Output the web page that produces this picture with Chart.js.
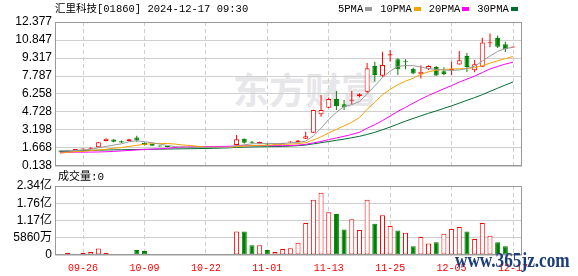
<!DOCTYPE html>
<html>
<head>
<meta charset="utf-8">
<script src="https://cdn.jsdelivr.net/npm/chart.js@4/dist/chart.umd.min.js"></script>
<style>
html,body{margin:0;padding:0;background:#fff;}
#wrap{position:relative;width:578px;height:276px;overflow:hidden;background:#fff;}
#wrap canvas{position:absolute;left:0;top:0;}
.txt{position:absolute;white-space:nowrap;font-family:"Liberation Mono","Noto Sans CJK SC",monospace;color:#000;}
#title{left:55px;top:3px;font-size:10.5px;line-height:12px;}
#volTitle{left:58px;top:171px;font-size:11px;line-height:12px;}
#legend{position:absolute;left:338px;top:3px;display:flex;align-items:center;font-family:"Liberation Mono",monospace;font-size:10.5px;line-height:12px;color:#000;}
#legend .item{display:flex;align-items:center;margin-right:8px;}
#legend .sw{display:inline-block;width:7px;height:4px;margin-left:2px;}
#wm1{left:233px;top:70px;font-family:"Noto Sans CJK SC",sans-serif;font-weight:bold;font-size:36px;line-height:36px;color:#e7e7ea;}
#wm2{left:455px;top:250px;font-family:"Liberation Serif",serif;font-weight:bold;font-size:20px;line-height:20px;color:#1b3d7a;transform:scaleX(0.86);transform-origin:left top;}
</style>
</head>
<body>
<div id="wrap">
  <div class="txt" id="wm1">东方财富</div>
  <canvas id="priceChart" width="578" height="276"></canvas>
  <canvas id="volChart" width="578" height="276"></canvas>
  <div class="txt" id="title">汇里科技[01860] 2024-12-17 09:30</div>
  <div id="legend"></div>
  <div class="txt" id="volTitle">成交量:0</div>
  <div class="txt" id="wm2">www.365jz.com</div>
</div>
<script>
// ---------- data ----------
const dates = ['09-23','09-24','09-25','09-26','09-27','09-30','10-02','10-03','10-04','10-07','10-08','10-09','10-10','10-14','10-15','10-16','10-17','10-18','10-21','10-22','10-23','10-24','10-25','10-28','10-29','10-30','10-31','11-01','11-04','11-05','11-06','11-07','11-08','11-11','11-12','11-13','11-14','11-15','11-18','11-19','11-20','11-21','11-22','11-25','11-26','11-27','11-28','11-29','12-02','12-03','12-04','12-05','12-06','12-09','12-10','12-11','12-12','12-13','12-16','12-17'];
const opens  = [1.40,1.38,1.50,1.55,1.60,1.73,2.26,2.40,2.25,2.26,2.56,2.12,2.00,1.86,1.80,1.69,1.70,1.68,1.70,1.71,1.74,1.72,1.71,1.92,2.46,2.18,2.10,2.03,1.97,2.02,2.14,2.18,2.46,2.97,4.53,5.09,5.83,5.38,5.69,6.09,6.45,8.64,7.80,9.54,9.21,9.00,8.40,7.93,8.36,8.55,8.20,8.30,8.76,9.49,8.28,8.58,10.58,11.02,10.49,10.22];
const closes = [1.36,1.45,1.55,1.60,1.68,2.16,2.45,2.20,2.13,2.42,2.30,1.92,1.86,1.80,1.76,1.72,1.73,1.71,1.72,1.73,1.71,1.70,1.74,2.42,2.12,2.12,2.17,1.96,2.00,2.08,2.22,2.30,2.66,4.90,4.90,5.83,5.24,5.13,5.75,6.23,8.44,7.87,8.72,9.63,8.36,8.96,8.01,8.14,8.64,7.84,7.95,8.34,9.13,8.56,8.78,10.63,10.64,10.27,10.06,10.25];
const highs  = [1.42,1.47,1.58,1.62,1.72,2.18,2.50,2.42,2.30,2.45,2.71,2.14,2.03,1.88,1.82,1.74,1.75,1.73,1.74,1.75,1.76,1.74,1.76,2.77,2.48,2.26,2.20,2.06,2.03,2.10,2.25,2.34,3.05,4.92,6.17,5.97,6.51,5.75,6.51,6.32,8.90,9.00,9.85,9.99,9.29,9.21,8.49,8.70,8.70,8.64,8.53,9.03,9.91,9.74,9.15,11.04,11.40,11.22,10.70,10.25];
const lows   = [1.33,1.36,1.48,1.53,1.58,1.70,2.24,2.15,2.10,2.24,2.20,1.88,1.84,1.77,1.74,1.67,1.68,1.66,1.68,1.69,1.69,1.68,1.69,1.90,2.06,2.05,2.06,1.94,1.95,2.00,2.12,2.16,2.44,2.95,4.33,5.04,4.90,4.90,5.38,5.98,6.32,7.30,7.73,9.00,7.87,8.36,7.93,7.57,8.30,7.78,7.85,7.85,8.74,8.13,8.10,8.55,10.24,10.17,9.83,10.22];
const ma5  = [1.45,1.45,1.47,1.50,1.55,1.68,1.80,1.92,2.02,2.20,2.28,2.20,2.12,2.00,1.88,1.78,1.75,1.72,1.71,1.72,1.72,1.72,1.72,1.86,1.94,2.02,2.05,2.06,2.04,2.05,2.10,2.15,2.25,2.70,3.35,4.10,4.70,5.20,5.35,5.62,6.25,6.95,7.65,8.20,8.60,8.68,8.66,8.55,8.42,8.35,8.30,8.26,8.30,8.42,8.62,9.05,9.48,9.88,10.12,10.23];
const ma10 = [1.22,1.30,1.35,1.38,1.45,1.50,1.56,1.65,1.70,1.80,1.90,1.98,2.04,2.06,2.05,2.00,1.92,1.88,1.80,1.74,1.73,1.72,1.72,1.78,1.83,1.87,1.90,1.90,1.95,1.97,2.00,2.04,2.12,2.35,2.62,2.95,3.25,3.55,3.85,4.25,4.95,5.55,6.20,6.65,7.05,7.35,7.60,7.92,8.15,8.27,8.35,8.38,8.40,8.42,8.50,8.65,8.88,9.08,9.26,9.45];
const ma20 = [1.30,1.30,1.31,1.31,1.32,1.33,1.35,1.38,1.42,1.46,1.50,1.54,1.57,1.60,1.64,1.70,1.74,1.77,1.78,1.79,1.80,1.80,1.81,1.84,1.86,1.87,1.88,1.87,1.86,1.86,1.88,1.91,1.98,2.10,2.22,2.38,2.52,2.66,2.82,3.00,3.35,3.65,4.00,4.38,4.78,5.12,5.48,5.82,6.14,6.42,6.70,6.97,7.27,7.52,7.78,8.08,8.38,8.60,8.80,8.96];
const ma30 = [1.38,1.40,1.42,1.44,1.46,1.48,1.50,1.51,1.52,1.53,1.54,1.55,1.56,1.57,1.58,1.59,1.60,1.61,1.62,1.63,1.64,1.66,1.68,1.72,1.74,1.76,1.77,1.78,1.79,1.80,1.83,1.87,1.92,2.02,2.12,2.22,2.32,2.42,2.54,2.66,2.82,3.00,3.22,3.45,3.70,3.95,4.18,4.40,4.62,4.82,5.04,5.25,5.48,5.72,5.95,6.20,6.48,6.75,7.02,7.28];
// volume in 万 (10k shares)
const volumes = [330,660,330,660,1000,2200,660,330,330,330,1660,1330,330,330,330,330,330,330,330,330,330,330,330,7960,7960,3320,3320,1660,1000,2000,2320,4200,10840,18800,21120,14490,13940,8630,12170,8520,18800,10620,13490,9840,8300,7520,2990,6080,3870,4310,7190,8850,9510,7960,5420,10840,6530,4310,2990,0];
const volUp = [0,1,1,1,1,1,1,0,0,1,0,0,0,0,0,1,1,1,1,1,0,0,1,1,0,0,1,0,1,1,1,1,1,1,1,1,0,0,1,1,1,0,1,1,0,1,0,1,1,0,1,1,1,0,1,1,1,0,0,1];
const priceTicks = [0.138,1.668,3.198,4.728,6.258,7.787,9.317,10.847,12.377];
const priceTickLabels = ['0.138','1.668','3.198','4.728','6.258','7.787','9.317','10.847','12.377'];
const volTicks = [0,5860,11720,17580,23440];
const volTickLabels = ['0','5860万','1.17亿','1.76亿','2.34亿'];
const labelIdx = [3,11,19,27,35,43,51,59];
const maNames = ['5PMA','10PMA','20PMA','30PMA'];
const maColors = ['#9a9a9a','#f5a300','#ff00ff','#006e32'];
const maSeries = [ma5, ma10, ma20, ma30];

// ---------- styles ----------
const RED = '#ff0000', GREEN = '#008000';
const GRID = '#cfcfcf', FRAME = '#999999';
const X_MIN = -0.65, X_MAX = 60.17;
const AXIS_W = 55;

// legend (html)
const lg = document.getElementById('legend');
maNames.forEach((n,k)=>{
  const it = document.createElement('span'); it.className='item';
  it.appendChild(document.createTextNode(n));
  const sw = document.createElement('span'); sw.className='sw'; sw.style.background = maColors[k];
  it.appendChild(sw); lg.appendChild(it);
});

const framePlugin = {
  id:'frame',
  afterDatasetsDraw(c){
    const a = c.chartArea, ctx = c.ctx;
    ctx.save(); ctx.strokeStyle = FRAME; ctx.lineWidth = 1;
    ctx.strokeRect(Math.round(a.left)+0.5, Math.round(a.top)+0.5, Math.round(a.right)-Math.round(a.left)-1, Math.round(a.bottom)-Math.round(a.top)-1);
    ctx.restore();
  }
};

function xScale(showLabels){
  return {
    type:'linear', min:X_MIN, max:X_MAX, offset:false,
    afterBuildTicks(s){ s.ticks = labelIdx.map(v=>({value:v})); },
    afterFit(s){ s.height = showLabels ? 21 : 0; },
    grid:{ color:GRID, drawTicks:false, offset:false, lineWidth:1 },
    border:{ display:false, dash:[4,3] },
    ticks:{ display:showLabels, autoSkip:false, maxRotation:0, padding:7, color:RED,
      font:{ family:'"Liberation Mono", monospace', size:10 },
      callback:(v,i)=>dates[labelIdx[i]] }
  };
}

const up = opens.map((o,i)=>closes[i] >= o);
const candleColor = up.map(u=>u?RED:GREEN);

const priceDatasets = [
  { type:'bar', label:'wick', order:3, grouped:false, barThickness:1, inflateAmount:0,
    data: highs.map((h,i)=>({x:i, y:[lows[i], h]})),
    backgroundColor: candleColor, borderWidth:0 },
  { type:'bar', label:'body', order:2, grouped:false, barThickness:5, inflateAmount:0, minBarLength:1,
    data: opens.map((o,i)=>({x:i, y:[Math.min(o,closes[i]), Math.max(o,closes[i])]})),
    backgroundColor: up.map(u=>u?'#ffffff':GREEN), borderColor: candleColor,
    borderWidth:1, borderSkipped:false }
].concat(maSeries.map((s,k)=>({
  type:'line', label:maNames[k], order:1, data:s.map((v,i)=>({x:i,y:v})),
  borderColor:maColors[k], borderWidth:1, pointRadius:0, tension:0, fill:false
})));

new Chart(document.getElementById('priceChart'), {
  type:'bar',
  data:{ datasets: priceDatasets },
  options:{
    responsive:false, maintainAspectRatio:false, animation:false, devicePixelRatio:1,
    layout:{ padding:{ top:22, right:56, bottom:110, left:0 } },
    plugins:{ legend:{display:false}, tooltip:{enabled:false} },
    scales:{
      x: xScale(false),
      y:{
        type:'linear', min:priceTicks[0], max:priceTicks[priceTicks.length-1],
        afterBuildTicks(s){ s.ticks = priceTicks.map(v=>({value:v})); },
        afterFit(s){ s.width = AXIS_W; },
        grid:{ color:GRID, drawTicks:false },
        border:{ display:false },
        ticks:{ autoSkip:false, padding:3, color:'#000',
          font:{ family:'"Liberation Sans", Arial, sans-serif', size:12 },
          callback:(v,i)=>priceTickLabels[i] }
      }
    }
  },
  plugins:[framePlugin]
});

new Chart(document.getElementById('volChart'), {
  type:'bar',
  data:{ datasets:[{
    type:'bar', label:'vol', grouped:false, barThickness:5, inflateAmount:0,
    data: volumes.map((v,i)=>({x:i, y:v})),
    backgroundColor: volUp.map(u=>u?'#ffffff':GREEN),
    borderColor: volUp.map(u=>u?RED:GREEN),
    borderWidth:1, borderSkipped:false
  }]},
  options:{
    responsive:false, maintainAspectRatio:false, animation:false, devicePixelRatio:1,
    layout:{ padding:{ top:186, right:56, bottom:0, left:0 } },
    plugins:{ legend:{display:false}, tooltip:{enabled:false} },
    scales:{
      x: xScale(true),
      y:{
        type:'linear', min:volTicks[0], max:volTicks[volTicks.length-1],
        afterBuildTicks(s){ s.ticks = volTicks.map(v=>({value:v})); },
        afterFit(s){ s.width = AXIS_W; },
        grid:{ color:GRID, drawTicks:false },
        border:{ display:false },
        ticks:{ autoSkip:false, padding:3, color:'#000',
          font:{ family:'"Liberation Sans", Arial, "Noto Sans CJK SC", sans-serif', size:12 },
          callback:(v,i)=>volTickLabels[i] }
      }
    }
  },
  plugins:[framePlugin]
});
</script>
</body>
</html>
